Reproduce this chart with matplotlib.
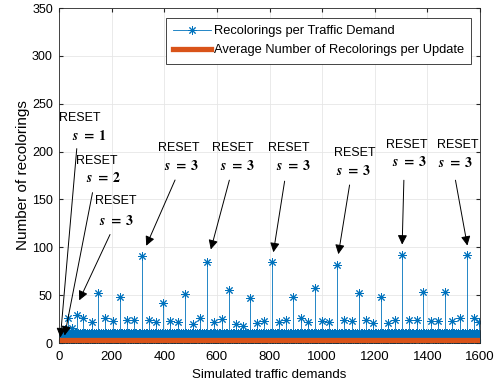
import numpy as np
import matplotlib.pyplot as plt

plt.rcParams['font.family'] = ['Liberation Sans', 'DejaVu Sans']
plt.rcParams['mathtext.fontset'] = 'stix'

# small recolorings between the peaks (repeating pattern of the dense band)
base_cycle = [6, 9, 4, 8, 10, 5, 7, 9, 3, 8, 6, 10, 7, 5, 9, 8, 4, 10, 6, 7, 9, 5, 8, 10, 6, 4, 9]
n_demands = 1600

# the visible peaks (demand index, recolorings)
peak_x = [23, 35, 48, 67, 92, 124, 149, 175, 206, 232, 257, 286, 314, 340, 367,
          396, 422, 451, 480, 508, 536, 564, 590, 618, 645, 673, 700, 724, 751, 780,
          808, 836, 863, 891, 919, 946, 973, 998, 1027, 1055, 1084, 1112, 1140, 1167, 1195,
          1223, 1249, 1277, 1303, 1331, 1359, 1384, 1413, 1442, 1468, 1495, 1524, 1552, 1579, 1598]
peak_y = [15, 26, 16, 29, 26, 22, 52, 26, 23, 48, 24, 24, 91, 24, 22,
          42, 23, 22, 51, 20, 26, 85, 22, 25, 55, 20, 18, 47, 21, 23,
          85, 22, 24, 48, 26, 22, 58, 23, 22, 82, 24, 23, 52, 24, 21,
          48, 21, 24, 92, 24, 24, 53, 23, 23, 53, 23, 26, 92, 26, 22]

avg_recolorings = 3

# reset annotations: s value, RESET text pos, s text pos, arrow tail, arrow head
reset_s = [1, 2, 3, 3, 3, 3, 3, 3, 3]
reset_xy = [(80, 235), (144, 190), (217, 148), (456, 204), (661, 204), (874, 204), (1125, 199), (1323, 207), (1516, 207)]
s_xy = [(114, 216), (171, 172), (220, 127), (467, 185), (680, 185), (893, 185), (1121, 180), (1334, 189), (1509, 188)]
tail_xy = [(68, 206), (129, 160), (198, 116), (445, 173), (650, 173), (859, 172), (1106, 168), (1311, 173), (1505, 173)]
head_xy = [(4, 3), (19, 5), (72, 42), (327, 99), (574, 95), (813, 92), (1060, 90), (1304, 100), (1554, 99)]

demands = np.arange(1, n_demands + 1)
recol = np.resize(np.array(base_cycle), n_demands).astype(float)
for px, py in zip(peak_x, peak_y):
    recol[px - 1] = py

blue = '#0072BD'
orange = '#D95319'
star = (8, 2, 0)

fig = plt.figure(figsize=(5.01, 3.85), dpi=100)
ax = fig.add_axes([0.118, 0.109, 0.840, 0.870])

ax.vlines(demands, 0, recol, color=blue, lw=0.6)
ax.plot(demands, recol, ls='none', marker=star, ms=6, mew=0.7, color=blue)
ax.axhline(0, color=blue, lw=0.6)
ax.plot([], [], color=blue, lw=0.6, marker=star, ms=6, mew=0.7, label='Recolorings per Traffic Demand')
ax.plot([1, n_demands], [avg_recolorings, avg_recolorings], color=orange, lw=3.8,
        label='Average Number of Recolorings per Update')

for s, rxy, sxy, t, h in zip(reset_s, reset_xy, s_xy, tail_xy, head_xy):
    ax.text(rxy[0], rxy[1], 'RESET', ha='center', va='center', fontsize=9)
    ax.text(sxy[0], sxy[1], r'$\mathbfit{s}\ \mathbf{=}\ \mathbf{%d}$' % s, ha='center', va='center', fontsize=10)
    ax.annotate('', xy=h, xytext=t,
                arrowprops=dict(arrowstyle='-|>', color='k', lw=0.7, mutation_scale=14))

ax.set_xlim(0, 1600)
ax.set_ylim(0, 350)
ax.set_xticks(range(0, 1601, 200))
ax.set_yticks(range(0, 351, 50))
ax.grid(True, color='#E6E6E6', lw=0.6)
ax.set_axisbelow(True)
ax.tick_params(direction='in', top=True, right=True, color='#262626', length=3)
ax.tick_params(axis='x', labelsize=9.5, pad=6)
ax.tick_params(axis='y', labelsize=9, pad=4.5)
for sp in ax.spines.values():
    sp.set_color('#262626')
    sp.set_linewidth(0.6)
ax.set_xlabel('Simulated traffic demands', fontsize=9.6, labelpad=4)
ax.set_ylabel('Number of recolorings', fontsize=11, labelpad=1)

leg = ax.legend(loc='upper right', bbox_to_anchor=(0.979, 0.97), fontsize=9.3, fancybox=False,
                edgecolor='#262626', framealpha=1, borderpad=0.55, handlelength=2.9,
                labelspacing=0.55, handletextpad=0.25, borderaxespad=0)
leg.get_frame().set_linewidth(0.6)

fig.savefig('out.png', dpi=100)
